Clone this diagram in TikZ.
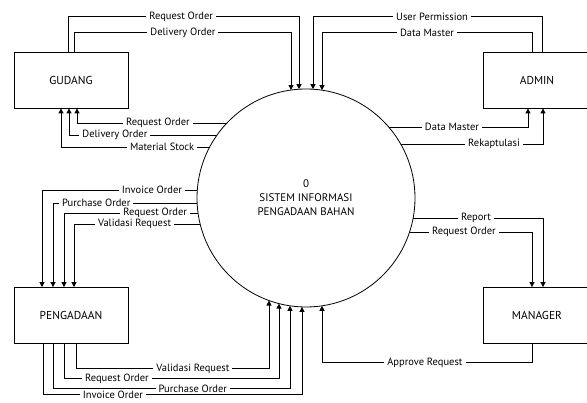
\documentclass[tikz,border=0pt]{standalone}
\usepackage{fontspec}
\setmainfont{PT Sans}
\usetikzlibrary{arrows.meta}
\begin{document}
\begin{tikzpicture}[x=1pt,y=-1pt,
 box/.style={draw, line width=0.8pt, minimum width=114pt, minimum height=56pt, inner sep=0, font=\fontsize{11.5}{13}\selectfont},
 flow/.style={draw, line width=0.8pt, -{Triangle[width=5pt,length=5pt]}},
 lbl/.style={fill=white, inner xsep=3pt, inner ysep=0pt, font=\fontsize{10.5}{11}\selectfont}]
\useasboundingbox (0,0) rectangle (587,403);
\node[box] (gud) at (71,80) {GUDANG};
\node[box, minimum width=108pt] (adm) at (537,80) {ADMIN};
\node[box] (peng) at (71,315.5) {PENGADAAN};
\node[box, minimum width=108pt] (mgr) at (537,315.5) {MANAGER};
\node[draw, circle, line width=0.8pt, minimum size=218pt, inner sep=0, align=center, font=\fontsize{11}{14}\selectfont] (c) at (306,198) {0\\SISTEM INFORMASI\\PENGADAAN BAHAN};
% points on the circle
\coordinate (t1) at (291,{198-sqrt(11881-225)});
\coordinate (t2) at (299,{198-sqrt(11881-49)});
\coordinate (t3) at (313,{198-sqrt(11881-49)});
\coordinate (t4) at (322,{198-sqrt(11881-256)});
\coordinate (b1) at (269,{198+sqrt(11881-1369)});
\coordinate (b2) at (279,{198+sqrt(11881-729)});
\coordinate (b3) at (290,{198+sqrt(11881-256)});
\coordinate (b4) at (302,{198+sqrt(11881-16)});
\coordinate (b5) at (322,{198+sqrt(11881-256)});
\coordinate (l1) at ({306-sqrt(11881-5625)},123);
\coordinate (l2) at ({306-sqrt(11881-3969)},135);
\coordinate (l3) at ({306-sqrt(11881-2601)},147);
\coordinate (l4) at ({306-sqrt(11881-64)},190);
\coordinate (l5) at ({306-sqrt(11881-25)},203);
\coordinate (l6) at ({306-sqrt(11881-225)},213);
\coordinate (l7) at ({306-sqrt(11881-676)},224);
\coordinate (r1) at ({306+sqrt(11881-5041)},127);
\coordinate (r2) at ({306+sqrt(11881-2916)},144);
\coordinate (r3) at ({306+sqrt(11881-400)},218);
\coordinate (r4) at ({306+sqrt(11881-1156)},232);
% top
\draw[flow] ([xshift=-3pt]gud.north) -- ++(0,-35) -| node[lbl,pos=0.245]{Request Order} (t2);
\draw[flow] ([xshift=3pt]gud.north) -- ++(0,-19) -| node[lbl,pos=0.251]{Delivery Order} (t1);
\draw[flow] ([xshift=5pt]adm.north) -- ++(0,-35) -| node[lbl,pos=0.24]{User Permission} (t3);
\draw[flow] ([xshift=-5pt]adm.north) -- ++(0,-19) -| node[lbl,pos=0.25]{Data Master} (t4);
% gudang bottom
\draw[flow] (l1) -| node[lbl,pos=0.23]{Request Order} ([xshift=6pt]gud.south);
\draw[flow] (l2) -| node[lbl,pos=0.345]{Delivery Order} ([xshift=-2pt]gud.south);
\draw[flow] (l3) -| node[lbl,pos=0.16]{Material Stock} ([xshift=-10pt]gud.south);
% admin bottom
\draw[flow] (r1) -| node[lbl,pos=0.227]{Data Master} ([xshift=-9pt]adm.south);
\draw[flow] (r2) -| node[lbl,pos=0.328]{Rekaptulasi} ([xshift=6pt]adm.south);
% pengadaan top
\draw[flow] (l4) -| node[lbl,pos=0.146]{Invoice Order} ([xshift=-29pt]peng.north);
\draw[flow] (l5) -| node[lbl,pos=0.35]{Purchase Order} ([xshift=-18pt]peng.north);
\draw[flow] (l6) -| node[lbl,pos=0.16]{Request Order} ([xshift=-7pt]peng.north);
\draw[flow] (l7) -| node[lbl,pos=0.26]{Validasi Request} ([xshift=3pt]peng.north);
% pengadaan bottom
\draw[flow] ([xshift=5pt]peng.south) -- ++(0,25) -| node[lbl,pos=0.303]{Validasi Request} (b1);
\draw[flow] ([xshift=-7pt]peng.south) -- ++(0,35) -| node[lbl,pos=0.123]{Request Order} (b2);
\draw[flow] ([xshift=-18pt]peng.south) -- ++(0,45) -| node[lbl,pos=0.295]{Purchase Order} (b3);
\draw[flow] ([xshift=-28pt]peng.south) -- ++(0,51) -| node[lbl,pos=0.135]{Invoice Order} (b4);
% manager
\draw[flow] (r3) -| node[lbl,pos=0.242]{Report} ([xshift=6pt]mgr.north);
\draw[flow] (r4) -| node[lbl,pos=0.222]{Request Order} ([xshift=-5pt]mgr.north);
\draw[flow] ([xshift=-5pt]mgr.south) -- ++(0,19) -| node[lbl,pos=0.255]{Approve Request} (b5);
\end{tikzpicture}
\end{document}
